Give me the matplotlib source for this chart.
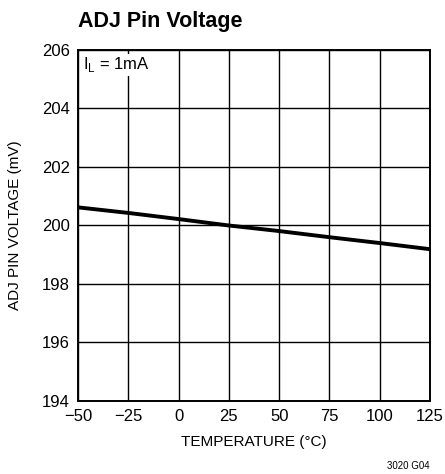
import numpy as np
import matplotlib
matplotlib.use('Agg')
import matplotlib.pyplot as plt

plt.rcParams['font.family'] = ['Liberation Sans Narrow', 'Liberation Sans', 'DejaVu Sans']
plt.rcParams['mathtext.fontset'] = 'custom'
plt.rcParams['mathtext.rm'] = 'Liberation Sans'

# data
temp = [-50, -25, 0, 25, 50, 75, 100, 125]
vadj = [200.62, 200.43, 200.22, 200.0, 199.81, 199.6, 199.4, 199.19]

xticks = [-50, -25, 0, 25, 50, 75, 100, 125]
yticks = [194, 196, 198, 200, 202, 204, 206]

fig = plt.figure(figsize=(4.45, 4.74), dpi=100)
ax = fig.add_axes([78 / 445, 1 - 401 / 474, 352 / 445, 351 / 474])

ax.plot(temp, vadj, color='black', lw=2.8, solid_capstyle='butt')

ax.set_xlim(-50, 125)
ax.set_ylim(194, 206)
ax.set_xticks(xticks)
ax.set_yticks(yticks)
ax.set_xticklabels(['\u221250', '\u221225', '0', '25', '50', '75', '100', '125'])
ax.tick_params(length=0, labelsize=12, pad=6)
ax.grid(True, color='black', lw=1)
for s in ax.spines.values():
    s.set_linewidth(1.4)

ax.set_xlabel('TEMPERATURE (\u00b0C)', fontsize=11, labelpad=8)
ax.set_ylabel('ADJ PIN VOLTAGE (mV)', fontsize=11, labelpad=14)

ax.text(0.015, 0.985, r'I$_\mathregular{L}$ = 1mA', transform=ax.transAxes,
        fontsize=12, va='top', ha='left',
        bbox=dict(facecolor='white', edgecolor='none', pad=1))

fig.text(78 / 445, 1 - 21 / 474, 'ADJ Pin Voltage', fontsize=15.5, fontweight='bold',
         va='center', ha='left')
fig.text(430 / 445, 1 - 466 / 474, '3020 G04', fontsize=7, va='center', ha='right')

fig.savefig('out.png', dpi=100)
